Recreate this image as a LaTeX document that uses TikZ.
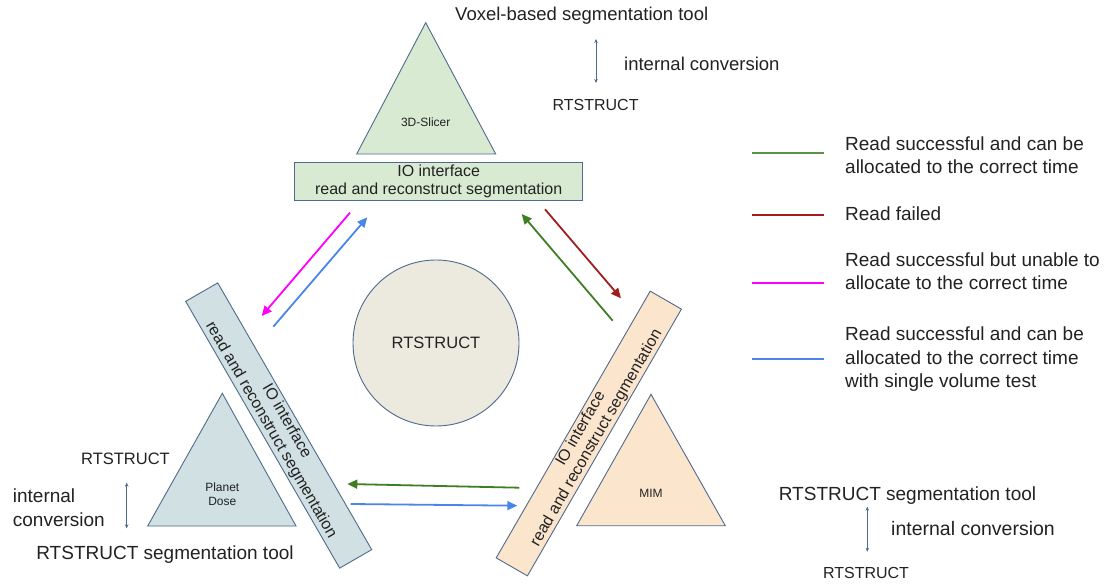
\documentclass[tikz,border=0pt]{standalone}
\usepackage{fontspec}
\setmainfont{Liberation Sans}
\usetikzlibrary{arrows.meta}
\definecolor{bord}{HTML}{4F6A8C}
\definecolor{fgreen}{HTML}{D9EAD3}
\definecolor{fblue}{HTML}{D0E0E3}
\definecolor{forange}{HTML}{FCE5CD}
\definecolor{fcircle}{HTML}{ECEADF}
\definecolor{cgreen}{HTML}{3F7F24}
\definecolor{cred}{HTML}{A21D1D}
\definecolor{cmag}{HTML}{FF00FF}
\definecolor{cblue}{HTML}{4A86E8}
\definecolor{txt}{HTML}{222222}
\newcommand{\fs}[2]{\fontsize{#1}{#2}\selectfont}
\tikzset{
  shapebox/.style={draw=bord, line width=0.9pt},
  iobox/.style={shapebox, minimum width=308, minimum height=37, inner sep=0pt, align=center, font=\fs{16}{18}, text=txt},
  tritext/.style={font=\fs{12}{14.5}, align=center, text=txt, inner sep=0pt},
  lbl/.style={inner sep=0pt, text=txt, anchor=mid, yshift=-2.5pt},
  flow/.style={line width=1.8pt, -{Triangle[length=10pt,width=9pt]}},
  legline/.style={line width=2pt},
  conv/.style={draw=bord, line width=0.8pt, {Stealth[length=4pt,width=3.5pt]}-{Stealth[length=4pt,width=3.5pt]}},
  legtext/.style={inner sep=0pt, anchor=west, align=left, font=\fs{19}{23.5}, text=txt}
}
\begin{document}
\begin{tikzpicture}[x=1pt,y=-1pt]
\useasboundingbox (0,0) rectangle (1113,585);
\fill[white] (0,0) rectangle (1113,585);

% triangles
\coordinate (t1a) at (425.7,22.7); \coordinate (t1b) at (356.7,154); \coordinate (t1c) at (495.7,154);
\draw[shapebox, fill=fgreen] (t1a) -- (t1b) -- (t1c) -- cycle;
\node[tritext] (slicer) at (425.7,122) {3D-Slicer};

\coordinate (t2a) at (222.3,393.3); \coordinate (t2b) at (147.7,526); \coordinate (t2c) at (296,526);
\draw[shapebox, fill=fblue] (t2a) -- (t2b) -- (t2c) -- cycle;
\node[tritext] (planet) at (222.3,494) {Planet\\Dose};

\coordinate (t3a) at (651,394.3); \coordinate (t3b) at (576.7,525.7); \coordinate (t3c) at (725.3,525.7);
\draw[shapebox, fill=forange] (t3a) -- (t3b) -- (t3c) -- cycle;
\node[tritext] (mim) at (651,493) {MIM};

% IO boxes
\node[shapebox, fill=fgreen, minimum width=288, minimum height=37.7, inner sep=0pt, align=center, font=\fs{16}{18}, text=txt] (iotop) at (438.7,181.2) {IO interface\\read and reconstruct segmentation};
\node[iobox, fill=fblue, rotate=-60] (ioleft) at (278.7,425.5) {IO interface\\read and reconstruct segmentation};
\node[iobox, fill=forange, rotate=60, minimum height=36] (ioright) at (588.8,433.5) {IO interface\\read and reconstruct segmentation};

% circle
\node[shapebox, circle, fill=fcircle, minimum size=166, inner sep=0pt, font=\fs{16.5}{19}, text=txt] (rt) at (436,343) {RTSTRUCT};

% flow arrows
\coordinate (m1) at (350,212.7); \coordinate (m2) at (261.7,316);
\coordinate (b1) at (273.3,326.7); \coordinate (b2) at (367.3,217.3);
\coordinate (g1) at (612.7,320.7); \coordinate (g2) at (521.7,214);
\coordinate (r1) at (545,209.3); \coordinate (r2) at (621,298.3);
\coordinate (g3) at (519.3,487.7); \coordinate (g4) at (347.3,484);
\coordinate (b3) at (350.7,504); \coordinate (b4) at (517.3,505.7);
\draw[flow, cmag] (m1) -- (m2);
\draw[flow, cblue] (b1) -- (b2);
\draw[flow, cgreen] (g1) -- (g2);
\draw[flow, cred] (r1) -- (r2);
\draw[flow, cgreen] (g3) -- (g4);
\draw[flow, cblue] (b3) -- (b4);

% top labels
\node[lbl, font=\fs{18.5}{22}] (voxel) at (581.7,15) {Voxel-based segmentation tool};
\node[lbl, anchor=west, font=\fs{18.5}{22}] (convtop) at (624,61) {internal conversion};
\node[lbl, font=\fs{16}{19}] (rttop) at (595.6,105) {RTSTRUCT};
\coordinate (ct1) at (596,39); \coordinate (ct2) at (596,83);
\draw[conv] (ct1) -- (ct2);

% left labels
\node[lbl, font=\fs{16.5}{19}] (rtleft) at (125.5,459) {RTSTRUCT};
\node[inner sep=0pt, anchor=west, align=left, font=\fs{19}{24.3}, text=txt] (convleft) at (12.7,508) {internal\\conversion};
\node[lbl, font=\fs{19}{22}] (segleft) at (165,554) {RTSTRUCT segmentation tool};
\coordinate (cl1) at (126.7,482.7); \coordinate (cl2) at (126.7,528.3);
\draw[conv] (cl1) -- (cl2);

% right labels
\node[lbl, font=\fs{19}{22}] (segright) at (907.5,495) {RTSTRUCT segmentation tool};
\node[lbl, font=\fs{19.5}{22}] (convright) at (973,530.7) {internal conversion};
\node[lbl, font=\fs{16}{19}] (rtright) at (866,573.3) {RTSTRUCT};
\coordinate (cr1) at (867.3,506.7); \coordinate (cr2) at (867.3,551.7);
\draw[conv] (cr1) -- (cr2);

% legend
\coordinate (l1a) at (751.7,153.3); \coordinate (l1b) at (824.3,153.3);
\coordinate (l2a) at (751.7,215); \coordinate (l2b) at (824.3,215);
\coordinate (l3a) at (751.7,282.7); \coordinate (l3b) at (824.3,282.7);
\coordinate (l4a) at (751.7,359); \coordinate (l4b) at (824.3,359);
\draw[legline, cgreen!85!white] (l1a) -- (l1b);
\draw[legline, cred] (l2a) -- (l2b);
\draw[legline, cmag] (l3a) -- (l3b);
\draw[legline, cblue] (l4a) -- (l4b);
\node[legtext] (leg1) at (845,155) {Read successful and can be\\allocated to the correct time};
\node[legtext] (leg2) at (845,214) {Read failed};
\node[legtext] (leg3) at (845,271) {Read successful but unable to\\allocate to the correct time};
\node[legtext] (leg4) at (845,359.5) {Read successful and can be\\allocated to the correct time\\with single volume test};
\end{tikzpicture}
\end{document}
